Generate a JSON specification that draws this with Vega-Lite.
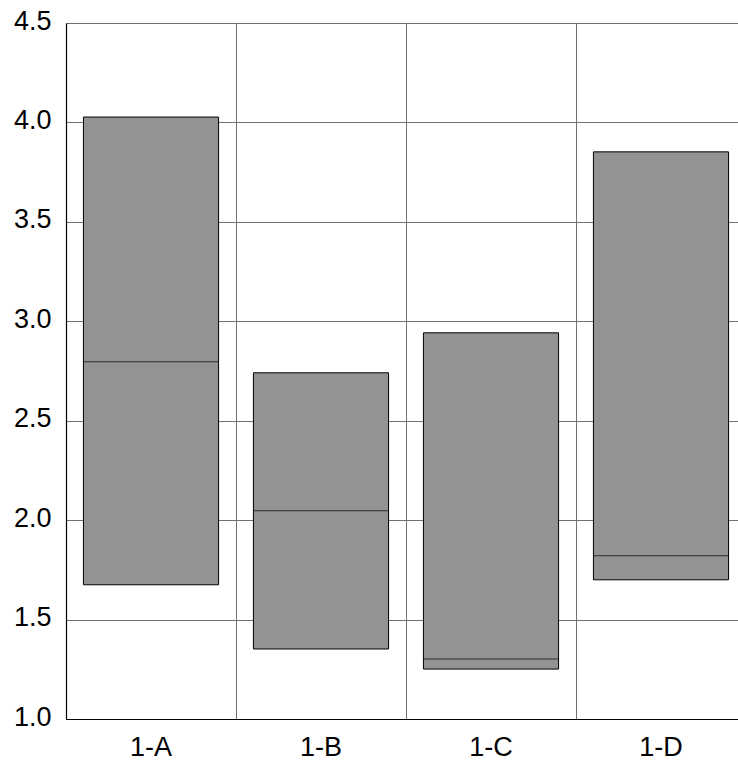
{
  "$schema": "https://vega.github.io/schema/vega-lite/v6.json",
  "width": 672,
  "height": 696,
  "autosize": {"type": "none"},
  "padding": {"left": 66, "top": 23, "right": 0, "bottom": 47},
  "background": "white",
  "data": {
    "values": [
      {"group": "1-A", "low": 1.675, "high": 4.027, "median": 2.796},
      {"group": "1-B", "low": 1.352, "high": 2.741, "median": 2.047},
      {"group": "1-C", "low": 1.251, "high": 2.942, "median": 1.302},
      {"group": "1-D", "low": 1.700, "high": 3.852, "median": 1.821}
    ]
  },
  "config": {
    "view": {"stroke": null},
    "axis": {
      "labelFont": "Liberation Sans",
      "labelFontSize": 27,
      "labelColor": "black",
      "domainColor": "black",
      "domainWidth": 1.2,
      "gridColor": "#707070",
      "gridWidth": 1,
      "gridOpacity": 1,
      "ticks": false,
      "title": null
    }
  },
  "encoding": {
    "x": {
      "field": "group",
      "type": "nominal",
      "sort": null,
      "scale": {"range": [0, 680], "paddingInner": 0, "paddingOuter": 0},
      "axis": {"grid": true, "bandPosition": 0, "labelAngle": 0, "labelPadding": 15, "labelFontSize": 27}
    }
  },
  "layer": [
    {
      "mark": {"type": "bar", "color": "#939393", "stroke": "black", "strokeWidth": 1, "width": {"band": 0.795}},
      "encoding": {
        "y": {
          "field": "low",
          "type": "quantitative",
          "scale": {"domain": [1, 4.5], "nice": false, "zero": false},
          "axis": {"values": [1, 1.5, 2, 2.5, 3, 3.5, 4, 4.5], "format": ".1f", "grid": true, "labelPadding": 15, "labelBaseline": "middle", "labelOffset": -2}
        },
        "y2": {"field": "high"}
      }
    },
    {
      "mark": {"type": "tick", "color": "black", "size": 135, "thickness": 1, "orient": "horizontal"},
      "encoding": {
        "y": {"field": "median", "type": "quantitative"}
      }
    }
  ]
}
